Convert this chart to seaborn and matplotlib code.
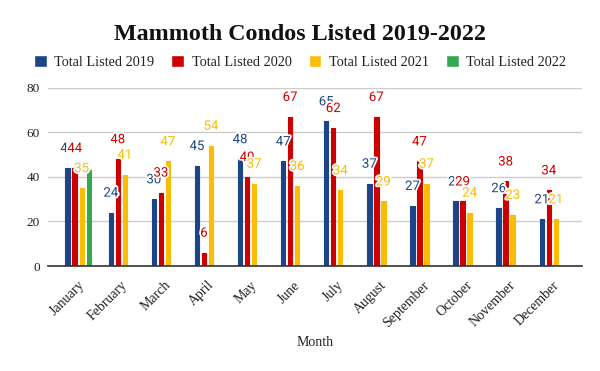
import numpy as np
import pandas as pd
import matplotlib
matplotlib.use("Agg")
import matplotlib.pyplot as plt
import matplotlib.patheffects as pe
import seaborn as sns

months = ["January", "February", "March", "April", "May", "June", "July",
          "August", "September", "October", "November", "December"]
listed_2019 = [44, 24, 30, 45, 48, 47, 65, 37, 27, 29, 26, 21]
listed_2020 = [44, 48, 33, 6, 40, 67, 62, 67, 47, 29, 38, 34]
listed_2021 = [35, 41, 47, 54, 37, 36, 34, 29, 37, 24, 23, 21]
listed_2022 = [43, None, None, None, None, None, None, None, None, None, None, None]

series_names = ["Total Listed 2019", "Total Listed 2020", "Total Listed 2021", "Total Listed 2022"]
colors = ["#1c4587", "#cc0000", "#fbbc04", "#34a853"]

rows = []
for name, vals in zip(series_names, [listed_2019, listed_2020, listed_2021, listed_2022]):
    for m, v in zip(months, vals):
        rows.append({"Month": m, "Series": name, "Value": np.nan if v is None else v})
df = pd.DataFrame(rows)

sns.set_theme(style="white")
serif = ["Liberation Serif", "DejaVu Serif"]
plt.rcParams["font.family"] = serif

fig = plt.figure(figsize=(6.0, 3.71), dpi=100)
ax = fig.add_axes([0.08, 0.283, 0.89, 0.48])

sns.barplot(data=df, x="Month", y="Value", hue="Series", order=months,
            hue_order=series_names, palette=colors, width=0.65, gap=0.38,
            ax=ax, legend=True, saturation=1)

for patch in ax.patches:
    patch.set_edgecolor(patch.get_facecolor())
    patch.set_linewidth(0.8)
    patch.set_joinstyle("round")

ax.set_ylim(0, 80)
ax.set_xlim(-0.70, 11.69)
ax.set_yticks([0, 20, 40, 60, 80])
ax.grid(axis="y", color="#cccccc", linewidth=1)
ax.set_axisbelow(True)
for s in ["top", "right", "left"]:
    ax.spines[s].set_visible(False)
ax.spines["bottom"].set_color("#333333")
ax.spines["bottom"].set_linewidth(1.2)
ax.tick_params(axis="y", length=0, labelsize=9.5, colors="#222222", pad=6)
ax.tick_params(axis="x", length=0, labelsize=10, colors="#222222", pad=9)
for lbl in ax.get_xticklabels():
    lbl.set_rotation(45)
    lbl.set_ha("right")
    lbl.set_rotation_mode("anchor")
ax.set_ylabel("")
ax.set_xlabel("Month", fontsize=10, color="#222222", labelpad=5)

# data labels (2019-2021)
for ci, cont in enumerate(ax.containers[:3]):
    for bar in cont:
        h = bar.get_height()
        if np.isnan(h):
            continue
        x = bar.get_x() + bar.get_width() / 2
        ax.annotate(f"{int(h)}", (x, h), xytext=(0, 14), textcoords="offset points",
                    ha="center", va="center", fontsize=9.5, color=colors[ci],
                    family=["Roboto", "DejaVu Sans"],
                    path_effects=[pe.withStroke(linewidth=2.5, foreground="white")])

leg = ax.get_legend()
handles = leg.legend_handles
leg.remove()
fig.legend(handles, series_names, loc="center", bbox_to_anchor=(0.5, 0.833), ncol=4,
           frameon=False, fontsize=10.3, handlelength=0.9, handleheight=0.9,
           handletextpad=0.52, columnspacing=1.19, labelcolor="#222222")

fig.text(0.5, 0.906, "Mammoth Condos Listed 2019-2022", ha="center", va="center",
         fontsize=17.3, fontweight="bold", color="#111111")

fig.savefig("out.png", dpi=100)
